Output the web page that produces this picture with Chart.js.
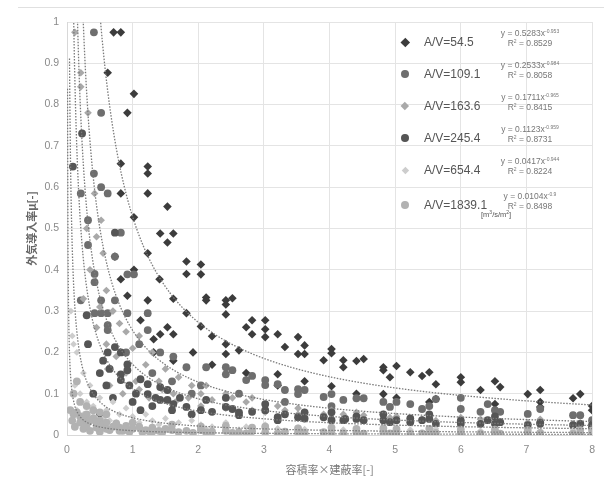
<!DOCTYPE html>
<html><head><meta charset="utf-8">
<script src="https://cdn.jsdelivr.net/npm/chart.js@4.4.1/dist/chart.umd.min.js"></script>
<style>
body{margin:0;background:#fff;}
#wrap{position:relative;width:604px;height:488px;overflow:hidden;}
#c{position:absolute;left:0;top:0;}
.topline{position:absolute;left:18px;top:7px;width:586px;height:1px;background:#e0e0e0;}
.lab{position:absolute;font-family:"Liberation Sans",Arial,sans-serif;font-size:12px;color:#555;white-space:nowrap;line-height:12px;}
.eq{position:absolute;font-family:"Liberation Sans",Arial,sans-serif;font-size:8.5px;color:#777;white-space:nowrap;text-align:center;width:84px;line-height:10px;}
.eq sup{font-size:5px;vertical-align:3px;line-height:0;}
.unit{position:absolute;font-family:"Liberation Sans",Arial,sans-serif;font-size:7.5px;color:#555;white-space:nowrap;}
.unit sup{font-size:5px;vertical-align:3px;line-height:0;}
.mk{position:absolute;}
</style></head>
<body><div id="wrap"><canvas id="c" width="604" height="488"></canvas><div class="topline"></div></div>
<script>
// ---- data ----
const seriesNames = ["A/V=54.5","A/V=109.1","A/V=163.6","A/V=245.4","A/V=654.4","A/V=1839.1"];
const trendA = [0.5283,0.2533,0.1711,0.1123,0.0417,0.0104];
const trendB = [-0.953,-0.984,-0.965,-0.959,-0.944,-0.9];
const trendAText = ["0.5283","0.2533","0.1711","0.1123","0.0417","0.0104"];
const trendBText = ["-0.953","-0.984","-0.965","-0.959","-0.944","-0.9"];
const r2Text = ["0.8529","0.8058","0.8415","0.8731","0.8224","0.8498"];
const xTickLabels = ["0","1","2","3","4","5","6","7","8"];
const yTickLabels = ["0","0.1","0.2","0.3","0.4","0.5","0.6","0.7","0.8","0.9","1"];

const s1x = [0.71,0.82,0.62,1.02,0.92,0.82,1.23,1.23,0.82,1.23,1.53,1.02,1.42,1.62,1.53,1.23,1.82,1.82,1.41,1.62,0.92,2.04,2.04,2.12,2.12,2.42,2.42,2.52,2.42,2.04,2.21,2.42,2.42,2.62,2.73,2.82,2.82,3.02,3.02,3.02,3.21,3.32,3.52,3.62,3.62,3.52,3.21,4.03,4.03,3.91,4.21,4.21,4.03,4.41,4.52,4.82,4.82,4.92,5.02,5.23,5.41,5.52,5.62,6.0,6.0,4.82,5.62,6.3,6.52,6.6,7.02,7.21,7.21,7.71,7.82,8.0,1.32,1.53,1.12,1.23,0.82,1.62,1.42,1.82,1.32,1.62,1.92,1.02,0.73,3.21,2.73,2.21,3.62,4.41,5.02,5.52,6.52,7.21,8.0];
const s1y = [0.975,0.975,0.877,0.826,0.78,0.657,0.65,0.633,0.585,0.585,0.553,0.527,0.488,0.488,0.466,0.44,0.42,0.39,0.377,0.33,0.337,0.413,0.389,0.333,0.326,0.326,0.316,0.331,0.292,0.263,0.239,0.22,0.196,0.205,0.261,0.278,0.244,0.278,0.256,0.237,0.244,0.213,0.237,0.217,0.196,0.196,0.147,0.208,0.198,0.181,0.181,0.164,0.118,0.179,0.184,0.164,0.157,0.14,0.167,0.152,0.143,0.152,0.123,0.14,0.128,0.099,0.087,0.109,0.13,0.116,0.099,0.109,0.068,0.089,0.099,0.06,0.232,0.261,0.278,0.326,0.377,0.244,0.244,0.295,0.2,0.18,0.2,0.4,0.432,0.12,0.15,0.17,0.13,0.1,0.09,0.08,0.075,0.08,0.07];

const s2x = [0.41,0.52,0.32,0.21,0.41,0.52,0.62,0.42,0.42,0.92,1.02,0.21,0.52,0.73,0.42,0.52,0.62,0.92,1.23,0.62,0.62,1.23,0.73,0.82,0.32,1.1,1.42,1.62,0.9,1.82,2.12,2.42,2.42,2.52,2.73,2.82,3.02,3.02,3.21,3.32,3.52,3.62,3.52,3.91,4.03,4.21,4.41,4.52,4.82,4.92,5.02,5.23,5.41,5.52,5.62,6.0,6.0,6.3,6.52,6.6,6.41,7.02,7.21,7.71,7.82,8.0,1.3,1.6,2.04,1.9,2.62,3.32,4.03];
const s2y = [0.975,0.78,0.52,0.585,0.633,0.60,0.585,0.39,0.37,0.389,0.389,0.326,0.326,0.326,0.295,0.295,0.295,0.295,0.295,0.266,0.254,0.254,0.432,0.49,0.46,0.22,0.2,0.19,0.2,0.164,0.164,0.164,0.147,0.157,0.133,0.143,0.133,0.121,0.123,0.109,0.111,0.109,0.099,0.092,0.099,0.085,0.089,0.089,0.08,0.068,0.08,0.075,0.063,0.07,0.087,0.063,0.09,0.056,0.06,0.056,0.075,0.051,0.063,0.048,0.048,0.036,0.15,0.13,0.12,0.1,0.1,0.08,0.07];

const s3x = [0.12,0.21,0.21,0.32,0.42,0.52,0.3,0.45,0.55,0.35,0.6,0.25,0.5,0.7,0.8,0.45,0.9,1.1,0.6,1.0,1.3,0.75,1.2,1.5,0.9,1.7,1.4,1.9,1.1,2.04,2.12,2.42,2.52,2.73,2.82,3.02,3.21,3.52,3.62,4.03,4.21,4.41,4.52,4.82,5.02,5.23,5.52,5.62,6.0,6.3,6.52,7.02,7.21,7.71,7.82,8.0,0.62,1.62,2.21,3.32,3.91,4.92,5.41,6.6,0.65,0.85,1.05,1.25,1.45,1.65,1.85,2.04,2.42,2.82,3.02,3.52,4.03,4.52,5.02,5.62,6.3,7.02,7.71];
const s3y = [0.975,0.877,0.843,0.78,0.585,0.52,0.5,0.48,0.44,0.40,0.35,0.33,0.31,0.30,0.27,0.26,0.25,0.24,0.22,0.21,0.2,0.19,0.17,0.16,0.15,0.14,0.13,0.12,0.11,0.1,0.12,0.1,0.09,0.08,0.09,0.075,0.07,0.065,0.055,0.06,0.05,0.055,0.048,0.05,0.045,0.04,0.048,0.035,0.042,0.038,0.035,0.03,0.038,0.028,0.03,0.025,0.16,0.1,0.085,0.06,0.05,0.042,0.038,0.032,0.12,0.1,0.13,0.09,0.11,0.08,0.09,0.07,0.065,0.06,0.055,0.05,0.04,0.038,0.035,0.03,0.028,0.025,0.022];

const s4x = [0.09,0.23,0.73,0.32,0.62,0.73,0.82,0.92,0.92,0.82,0.82,1.12,1.23,1.42,1.53,1.23,1.42,1.53,1.12,1.82,0.5,0.6,0.4,0.7,1.0,1.6,1.9,0.3,0.5,1.3,2.12,2.21,2.42,2.52,2.62,2.82,3.02,3.21,3.21,3.52,3.62,3.91,4.03,4.21,4.24,4.41,4.52,4.82,4.92,5.02,5.23,5.41,5.52,5.62,6.0,6.3,6.41,6.52,6.6,7.02,7.21,7.71,7.82,8.0,4.82,5.52,6.52,3.02,2.42,4.03,0.55,0.65,0.95,1.05,1.35,1.62,1.72,2.04,2.62,3.32,3.62,4.41,5.23,6.0,7.21,8.0];
const s4y = [0.65,0.73,0.49,0.22,0.2,0.213,0.2,0.171,0.157,0.147,0.133,0.135,0.123,0.116,0.109,0.099,0.085,0.085,0.06,0.068,0.15,0.12,0.1,0.09,0.08,0.06,0.05,0.29,0.05,0.07,0.085,0.056,0.068,0.063,0.048,0.056,0.06,0.043,0.036,0.043,0.04,0.043,0.036,0.036,0.039,0.039,0.036,0.036,0.031,0.036,0.031,0.036,0.039,0.027,0.027,0.027,0.036,0.027,0.031,0.024,0.027,0.024,0.027,0.019,0.05,0.05,0.045,0.075,0.09,0.055,0.18,0.16,0.12,0.1,0.09,0.075,0.09,0.06,0.055,0.05,0.055,0.045,0.04,0.035,0.03,0.025];

const s5x = [0.06,0.08,0.1,0.15,0.12,0.2,0.25,0.3,0.35,0.4,0.5,0.6,0.7,0.8,0.9,1.0,1.2,1.3,1.5,1.7,1.9,2.04,2.42,2.73,3.02,3.52,4.03,4.41,4.82,5.23,5.62,6.0,6.52,7.02,7.71,8.0,0.45,0.65,1.1,1.4,2.21,2.82,3.21,3.62,4.21,5.02,5.52,6.3,7.21,7.82,0.15,0.25,0.4,0.55,0.75,1.0,1.3,1.6,2.12,2.62,3.02,4.03,5.02,6.0,7.02,8.0];
const s5y = [0.3,0.24,0.22,0.2,0.12,0.1,0.15,0.08,0.12,0.07,0.09,0.06,0.08,0.05,0.065,0.045,0.05,0.035,0.04,0.03,0.035,0.025,0.03,0.02,0.025,0.018,0.02,0.015,0.018,0.013,0.015,0.012,0.014,0.01,0.012,0.009,0.04,0.035,0.03,0.025,0.02,0.018,0.016,0.014,0.013,0.012,0.011,0.01,0.009,0.008,0.06,0.05,0.045,0.04,0.03,0.025,0.02,0.018,0.015,0.013,0.012,0.01,0.008,0.007,0.006,0.005];

const s6x = [0.05,0.1,0.15,0.2,0.25,0.3,0.35,0.4,0.45,0.5,0.55,0.6,0.7,0.75,0.8,0.9,1.0,1.1,1.2,1.3,1.4,1.5,1.6,1.82,2.04,2.21,2.42,2.62,2.82,3.02,3.32,3.52,3.91,4.03,4.41,4.82,5.02,5.41,5.62,6.0,6.52,7.02,7.21,7.82,8.0,0.1,0.2,0.15,0.3,0.4,0.5,0.6,0.12,0.25,0.35,0.5,0.65,0.85,0.95,1.15,1.25,1.45,1.7,1.92,2.12,2.52,2.73,3.21,3.62,4.21,4.52,4.92,5.23,5.52,6.3,6.6,7.71,2.04,2.42,2.82,3.02,3.52,4.03,4.41,4.82,5.02,5.52,6.0,6.52,7.02,7.82,8.0,0.3,0.45,0.6,0.8,1.0,1.3,1.6,0.08,0.2];
const s6y = [0.06,0.05,0.055,0.045,0.04,0.05,0.035,0.04,0.03,0.035,0.025,0.03,0.02,0.028,0.018,0.022,0.015,0.02,0.012,0.018,0.01,0.015,0.012,0.01,0.012,0.008,0.01,0.007,0.009,0.006,0.008,0.006,0.007,0.005,0.006,0.005,0.006,0.004,0.005,0.004,0.005,0.004,0.005,0.004,0.003,0.1,0.08,0.13,0.07,0.06,0.055,0.05,0.02,0.015,0.01,0.008,0.012,0.01,0.008,0.007,0.009,0.006,0.007,0.005,0.006,0.005,0.004,0.004,0.005,0.004,0.003,0.004,0.003,0.004,0.003,0.003,0.003,0.02,0.022,0.018,0.02,0.016,0.018,0.015,0.016,0.014,0.015,0.013,0.013,0.012,0.012,0.011,0.025,0.018,0.015,0.01,0.03,0.008,0.025,0.035,0.03];

const seriesX = [s1x,s2x,s3x,s4x,s5x,s6x];
const seriesY = [s1y,s2y,s3y,s4y,s5y,s6y];
const colors = ["#3c3c3c","#6e6e6e","#a9a9a9","#555555","#cdcdcd","#b2b2b2"];
const styles = ["rectRot","circle","rectRot","circle","rectRot","circle"];
const radii = [4.3,3.9,3.8,3.9,3.4,3.9];

const datasets = seriesX.map((xs,i)=>({
  label: seriesNames[i],
  data: xs.map((x,j)=>({x:x,y:seriesY[i][j]})),
  backgroundColor: colors[i],
  borderColor: colors[i],
  borderWidth: 0,
  pointStyle: styles[i],
  pointRadius: radii[i],
  order: 6-i
}));

const trendPlugin = {
  id:'trend',
  afterDatasetsDraw(chart){
    const {ctx, chartArea:a, scales:{x,y}} = chart;
    ctx.save();
    ctx.beginPath(); ctx.rect(a.left,a.top,a.right-a.left,a.bottom-a.top); ctx.clip();
    ctx.strokeStyle = '#7a7a7a'; ctx.lineWidth = 1.3; ctx.setLineDash([1.5,1.5]);
    trendA.forEach((A,i)=>{
      ctx.beginPath();
      let started=false;
      for(let px=a.left+0.5; px<=a.right; px+=0.5){
        const xv = x.getValueForPixel(px);
        if(xv<=0) continue;
        const yv = A*Math.pow(xv,trendB[i]);
        let py = y.getPixelForValue(yv);
        if(py < a.top-50) { started=false; continue; }
        if(!started){ctx.moveTo(px,py); started=true;} else ctx.lineTo(px,py);
      }
      ctx.stroke();
    });
    ctx.restore();
  }
};

new Chart(document.getElementById('c'),{
  type:'scatter',
  data:{datasets},
  plugins:[trendPlugin],
  options:{
    responsive:false, animation:false,
    layout:{padding:{top:22,left:25,right:8,bottom:8}},
    plugins:{legend:{display:false},tooltip:{enabled:false}},
    scales:{
      x:{type:'linear',min:0,max:8,
        afterFit(s){s.height=45;},
        grid:{color:'#e4e4e4',drawTicks:false},
        border:{color:'#d8d8d8'},
        ticks:{stepSize:1,padding:9,color:'#8a8a8a',font:{family:'"Liberation Sans",Arial',size:10.5},
          callback:(v)=>xTickLabels[Math.round(v)]},
        title:{display:true,text:'容積率×建蔽率[-]',color:'#777',font:{family:'"Noto Sans CJK JP"',size:11},padding:{top:0,bottom:4}}
      },
      y:{min:0,max:1,
        afterFit(s){s.width=42;},
        grid:{color:'#e4e4e4',drawTicks:false},
        border:{color:'#d8d8d8'},
        ticks:{stepSize:0.1,padding:8,color:'#8a8a8a',font:{family:'"Liberation Sans",Arial',size:10.5},
          callback:(v)=>yTickLabels[Math.round(v*10)]},
        title:{display:true,text:'外気導入率μ[-]',color:'#666',font:{family:'"Noto Sans CJK JP"',size:11,weight:'bold'},padding:{top:0,bottom:0}}
      }
    }
  }
});

// ---- legend (HTML overlay) ----
const wrap = document.getElementById('wrap');
const rowY = [42,74,106,138,170,205];
seriesNames.forEach((n,i)=>{
  const r = rowY[i];
  const m = document.createElement('div'); m.className='mk';
  const sz = radii[i]*2;
  m.style.cssText = `left:${405-sz/2}px;top:${r-sz/2}px;width:${sz}px;height:${sz}px;background:${colors[i]};` +
    (styles[i]==='circle' ? 'border-radius:50%;' : `transform:rotate(45deg) scale(0.75);`);
  wrap.appendChild(m);
  const l = document.createElement('div'); l.className='lab';
  l.style.left='424px'; l.style.top=(r-6)+'px'; l.textContent=n; wrap.appendChild(l);
  const e = document.createElement('div'); e.className='eq';
  e.style.left='488px'; e.style.top=(r-14)+'px';
  e.innerHTML = `y = ${trendAText[i]}x<sup>${trendBText[i]}</sup><br>R<sup>2</sup> = ${r2Text[i]}`;
  wrap.appendChild(e);
});
const u = document.createElement('div'); u.className='unit';
u.style.left='481px'; u.style.top='210px'; u.innerHTML='[m<sup>3</sup>/s/m<sup>2</sup>]';
wrap.appendChild(u);
</script>
</body></html>
